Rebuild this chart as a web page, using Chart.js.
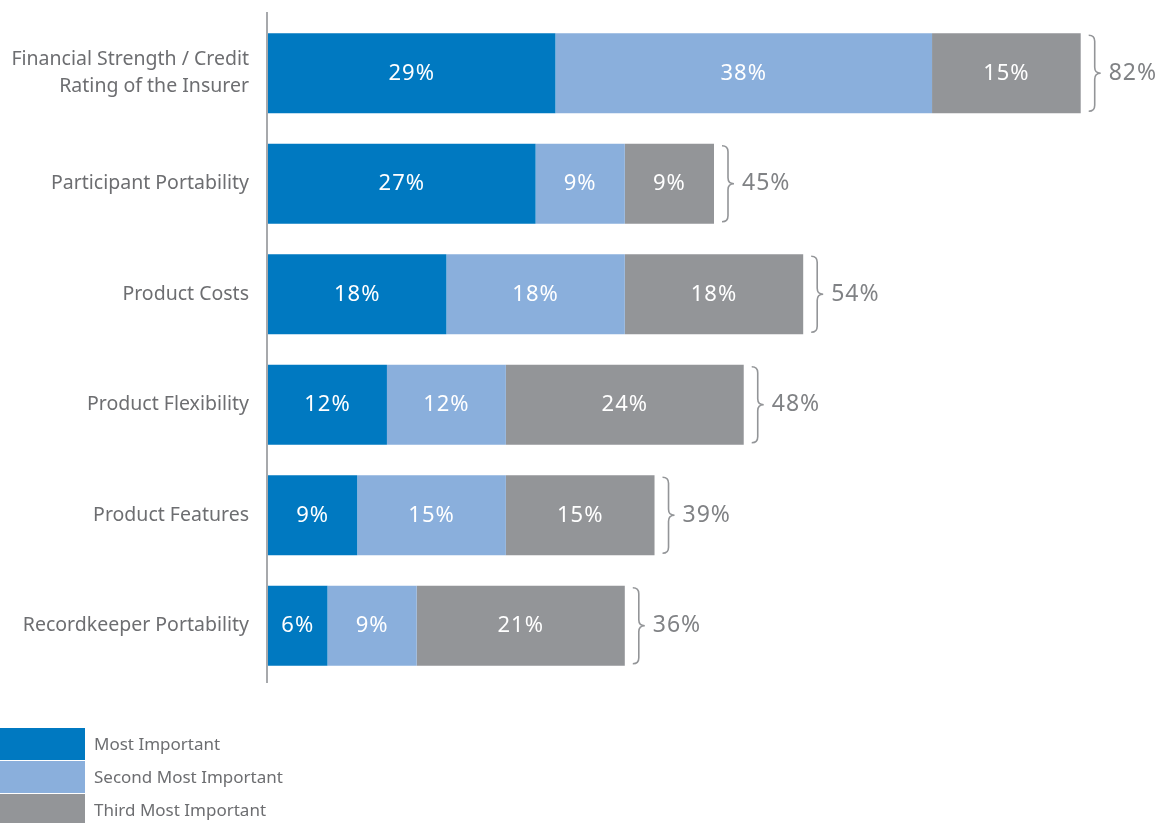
<!DOCTYPE html>
<html>
<head>
<meta charset="utf-8">
<script src="https://cdn.jsdelivr.net/npm/chart.js@4"></script>
<style>
  html, body { margin: 0; padding: 0; background: #fff; }
  #wrap { width: 1165px; height: 823px; position: relative; }
</style>
</head>
<body>
<div id="wrap"><canvas id="myChart"></canvas></div>
<script>
const categories = [
    ['Financial Strength / Credit', 'Rating of the Insurer'],
    'Participant Portability',
    'Product Costs',
    'Product Flexibility',
    'Product Features',
    'Recordkeeper Portability'
];
const seriesNames = ['Most Important', 'Second Most Important', 'Third Most Important'];
const mostImportant = [29, 27, 18, 12, 9, 6];
const secondImportant = [38, 9, 18, 12, 15, 9];
const thirdImportant = [15, 9, 18, 24, 15, 21];
const totals = [82, 45, 54, 48, 39, 36];
const colors = ['#0079c1', '#8aafdc', '#939598'];

const FONT = '"Noto Sans", sans-serif';
const TEXT = '#6d6e71';

// white % labels inside bars, braces + totals, axis line, legend
const extras = {
    id: 'extras',
    afterDatasetsDraw(chart) {
        const c = chart.ctx;
        const area = chart.chartArea;
        c.save();
        // axis line
        c.strokeStyle = '#a7a9ac';
        c.lineWidth = 2;
        c.beginPath();
        c.moveTo(area.left - 1, 12);
        c.lineTo(area.left - 1, 683);
        c.stroke();

        // values in bars
        c.fillStyle = '#fff';
        c.font = '22px ' + FONT;
        c.letterSpacing = '1px';
        c.textAlign = 'center';
        c.textBaseline = 'middle';
        chart.data.datasets.forEach((ds, di) => {
            chart.getDatasetMeta(di).data.forEach((bar, i) => {
                c.fillText(ds.data[i] + '%', (bar.x + bar.base) / 2, bar.y);
            });
        });

        // braces and totals
        const last = chart.getDatasetMeta(2).data;
        c.strokeStyle = '#939598';
        c.lineWidth = 1.6;
        last.forEach((bar, i) => {
            const x0 = bar.x + 8;
            const top = bar.y - bar.height / 2 + 2;
            const bot = bar.y + bar.height / 2 - 2;
            const mid = bar.y;
            const w = 12, r = 6;
            const xm = x0 + w / 2;
            c.beginPath();
            c.moveTo(x0, top);
            c.quadraticCurveTo(xm, top, xm, top + r);
            c.lineTo(xm, mid - r);
            c.quadraticCurveTo(xm, mid, x0 + w, mid);
            c.quadraticCurveTo(xm, mid, xm, mid + r);
            c.lineTo(xm, bot - r);
            c.quadraticCurveTo(xm, bot, x0, bot);
            c.stroke();
            c.fillStyle = '#808285';
            c.font = '23px ' + FONT;
            c.letterSpacing = '1px';
            c.textAlign = 'left';
            c.fillText(totals[i] + '%', x0 + w + 8, mid);
        });

        // legend
        c.font = '17px ' + FONT;
        c.letterSpacing = '0px';
        c.textAlign = 'left';
        seriesNames.forEach((name, i) => {
            const y = 728 + i * 33;
            c.fillStyle = colors[i];
            c.fillRect(0, y, 85, 32);
            c.fillStyle = TEXT;
            c.fillText(name, 94, y + 17);
        });
        c.restore();
    }
};

document.addEventListener('DOMContentLoaded', function () {
    const ctx = document.getElementById('myChart').getContext('2d');
    new Chart(ctx, {
        type: 'bar',
        data: {
            labels: categories,
            datasets: [
                { label: seriesNames[0], data: mostImportant, backgroundColor: colors[0] },
                { label: seriesNames[1], data: secondImportant, backgroundColor: colors[1] },
                { label: seriesNames[2], data: thirdImportant, backgroundColor: colors[2] }
            ]
        },
        options: {
            indexAxis: 'y',
            responsive: true,
            maintainAspectRatio: false,
            animation: false,
            layout: { padding: { top: 18, bottom: 142, right: 5, left: 0 } },
            datasets: { bar: { categoryPercentage: 0.725, barPercentage: 1, borderWidth: 0 } },
            scales: {
                x: {
                    stacked: true,
                    display: false,
                    min: 0,
                    max: 90
                },
                y: {
                    stacked: true,
                    grid: { display: false, drawTicks: false },
                    border: { display: false },
                    afterFit: function (scale) {
                        scale.width = 268;
                        scale.paddingTop = 0;
                        scale.paddingBottom = 0;
                    },
                    ticks: {
                        color: TEXT,
                        padding: 19,
                        font: { family: FONT, size: 19.5, lineHeight: 1.38 }
                    }
                }
            },
            plugins: {
                legend: { display: false },
                tooltip: { enabled: false }
            }
        },
        plugins: [extras]
    });
});
</script>
</body>
</html>
